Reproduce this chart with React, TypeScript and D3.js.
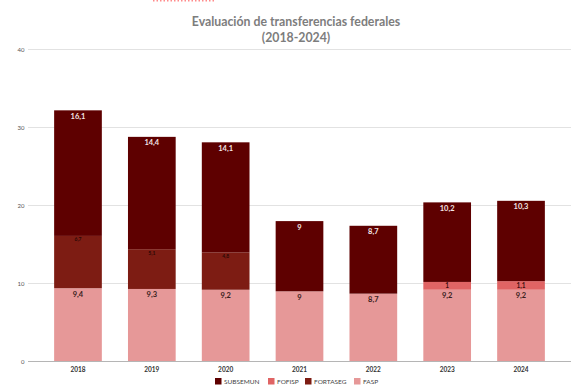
import React from "react";
import * as d3 from "d3";

const years = ["2018", "2019", "2020", "2021", "2022", "2023", "2024"];
const fasp = [9.4, 9.3, 9.2, 9.0, 8.7, 9.2, 9.2];
const fortaseg = [6.7, 5.1, 4.8, 0, 0, 0, 0];
const fofisp = [0, 0, 0, 0, 0, 1.0, 1.1];
const subsemun = [16.1, 14.4, 14.1, 9.0, 8.7, 10.2, 10.3];
const yTicks = [0, 10, 20, 30, 40];
const seriesNames = ["FASP", "FORTASEG", "FOFISP", "SUBSEMUN"];
const legendOrder = ["SUBSEMUN", "FOFISP", "FORTASEG", "FASP"];

const colors: Record<string, string> = {
  FASP: "#e69898",
  FORTASEG: "#7d1c13",
  FOFISP: "#e06464",
  SUBSEMUN: "#5e0000",
};
const labelColors: Record<string, string> = {
  FASP: "#3a2020",
  FORTASEG: "#2a0805",
  FOFISP: "#3a1010",
  SUBSEMUN: "#f2e6e6",
};
const labelSizes: Record<string, number> = {
  FASP: 7.5,
  FORTASEG: 5,
  FOFISP: 6.5,
  SUBSEMUN: 7.5,
};

const fmt = (v: number) => {
  const s = Number.isInteger(v) ? String(v) : v.toFixed(1);
  return s.replace(".", ",");
};

const FONT = "Lato, 'Open Sans', sans-serif";

export default function App() {
  const W = 579, H = 390;
  const left = 28, right = 571;
  const x = d3.scaleBand<string>().domain(years).range([left, right]).paddingInner(0.354).paddingOuter(0.354);
  const y = d3.scaleLinear().domain([0, 40]).range([361.5, 49.5]);

  const table = years.map((yr, i) => ({
    year: yr,
    FASP: fasp[i],
    FORTASEG: fortaseg[i],
    FOFISP: fofisp[i],
    SUBSEMUN: subsemun[i],
  }));
  const stack = d3.stack<any>().keys(seriesNames)(table);

  // legend layout
  const legendY = 381.5;
  const itemWidths: Record<string, number> = { SUBSEMUN: 53, FOFISP: 37, FORTASEG: 49, FASP: 26 };
  let lx = 215;
  const legendItems = legendOrder.map((k) => {
    const pos = lx;
    lx += itemWidths[k];
    return { k, pos };
  });

  return (
    <svg width={W} height={H} style={{ position: "absolute", left: 0, top: 0, background: "#fff" }}>
      <line x1={153} x2={216} y1={0.8} y2={0.8} stroke="#ff8a8a" strokeWidth={1.5} strokeDasharray="1.5,2" />
      <text x={296} y={25.5} textAnchor="middle" fontFamily={FONT} fontWeight={700} fontSize={12.3} fill="#7d7d7d">
        Evaluación de transferencias federales
      </text>
      <text x={296} y={42} textAnchor="middle" fontFamily={FONT} fontWeight={700} fontSize={12.3} fill="#7d7d7d">
        (2018-2024)
      </text>
      {yTicks.map((t) => (
        <g key={t}>
          {t > 0 && <line x1={left} x2={right} y1={y(t)} y2={y(t)} stroke="#e2e2e2" strokeWidth={1} />}
          <text x={24.5} y={y(t) + 2} textAnchor="end" fontFamily={FONT} fontSize={6} fill="#555">
            {t}
          </text>
        </g>
      ))}
      {stack.map((s) =>
        s.map((d, i) => {
          const v = d[1] - d[0];
          if (v <= 0) return null;
          const key = s.key;
          const bx = x(years[i])!;
          const bw = x.bandwidth();
          return (
            <g key={key + i}>
              <rect x={bx} y={y(d[1])} width={bw} height={y(d[0]) - y(d[1])} fill={colors[key]} />
              <text
                x={bx + bw / 2}
                y={y(d[1]) + (key === "FORTASEG" ? 5.5 : key === "FOFISP" ? 6.5 : 8.5)}
                textAnchor="middle"
                fontFamily={FONT}
                fontWeight={700}
                fontSize={labelSizes[key]}
                fill={labelColors[key]}
              >
                {fmt(v)}
              </text>
            </g>
          );
        })
      )}
      <line x1={left} x2={right} y1={y(0)} y2={y(0)} stroke="#b5b5b5" strokeWidth={1} />
      {years.map((yr) => (
        <text key={yr} x={x(yr)! + x.bandwidth() / 2} y={371.5} textAnchor="middle" fontFamily={FONT} fontWeight={700} fontSize={6.5} fill="#333">
          {yr}
        </text>
      ))}
      {legendItems.map(({ k, pos }) => (
        <g key={k}>
          <rect x={pos} y={legendY - 3.5} width={6.5} height={6.5} fill={colors[k]} />
          <text x={pos + 9} y={legendY + 2.4} fontFamily={FONT} fontSize={6.5} fill="#444">
            {k}
          </text>
        </g>
      ))}
    </svg>
  );
}
